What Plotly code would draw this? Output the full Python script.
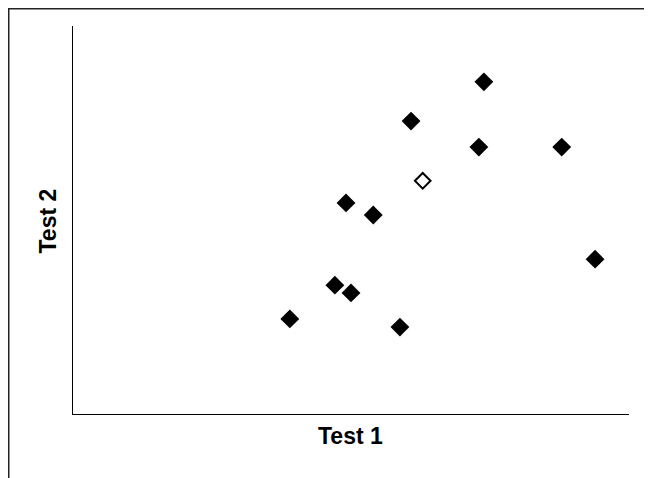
import plotly.graph_objects as go

# Data (arbitrary 0-100 scale)
test1_filled = [39.0, 47.1, 50.0, 49.1, 54.0, 58.8, 60.8, 73.0, 73.9, 87.9, 93.9]
test2_filled = [24.5, 33.2, 31.2, 54.4, 51.3, 22.4, 75.5, 68.8, 85.6, 68.8, 39.9]
test1_open = [62.9]
test2_open = [60.1]

x_title = "Test 1"
y_title = "Test 2"

# page is offset by an 8px body margin
OFF = 8
W, H = 652 - OFF, 478 - OFF
L, R_EDGE, T, B_EDGE = 73 - OFF, 629 - OFF, 26 - OFF, 414 - OFF
PW, PH = R_EDGE - L, B_EDGE - T

fig = go.Figure()
fig.add_trace(go.Scatter(
    x=test1_filled, y=test2_filled, mode="markers",
    marker=dict(symbol="diamond", size=14.5, color="black", line=dict(width=0)),
    showlegend=False, hoverinfo="skip"))
fig.add_trace(go.Scatter(
    x=test1_open, y=test2_open, mode="markers",
    marker=dict(symbol="diamond-open", size=12, color="black", line=dict(width=2, color="black")),
    showlegend=False, hoverinfo="skip"))

axis_common = dict(showline=True, linecolor="black", linewidth=1, showgrid=False,
                   zeroline=False, showticklabels=False, ticks="")
fig.update_xaxes(range=[0, 100], **axis_common)
fig.update_yaxes(range=[0, 100], **axis_common)

def px(xp):
    return (xp - OFF - L) / PW

def py(yp):
    return (B_EDGE - (yp - OFF)) / PH

font_title = dict(family="Liberation Sans, Arial, sans-serif", size=23, color="black")
fig.add_annotation(text="<b>%s</b>" % x_title, xref="paper", yref="paper",
                   x=px(350.5), y=py(436), showarrow=False,
                   font=font_title, xanchor="center", yanchor="middle")
fig.add_annotation(text="<b>%s</b>" % y_title, xref="paper", yref="paper",
                   x=px(47), y=py(221.5), showarrow=False,
                   font=font_title, xanchor="center", yanchor="middle", textangle=-90)

fig.add_shape(type="rect", xref="paper", yref="paper",
              x0=px(8.75), x1=px(650),
              y0=-0.3, y1=py(8.75),
              line=dict(color="#222222", width=1.5), layer="above")

fig.update_layout(width=W, height=H,
                  margin=dict(l=L, r=W - R_EDGE, t=T, b=H - B_EDGE),
                  plot_bgcolor="white", paper_bgcolor="white")

fig.write_html("out.html")
